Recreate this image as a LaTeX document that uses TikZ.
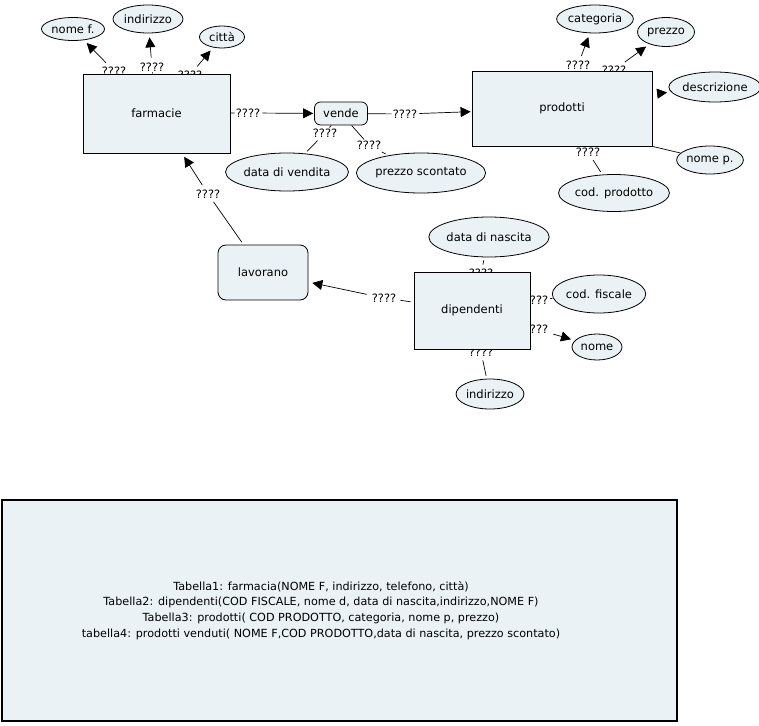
\documentclass[tikz,border=0pt]{standalone}
\usepackage{fontspec}
\setmainfont{DejaVu Sans}
\usetikzlibrary{shapes.geometric,arrows.meta}
\definecolor{cfill}{RGB}{234,242,245}
\pgfdeclarelayer{bg}
\pgfsetlayers{bg,main}
\begin{document}
\begin{tikzpicture}[x=1pt,y=-1pt,
  concept/.style={draw, fill=cfill, line width=0.8pt, inner sep=0pt, font=\fontsize{11.5}{13}\selectfont},
  box/.style={concept, rectangle},
  rbox/.style={concept, rectangle, rounded corners=6pt},
  ell/.style={concept, ellipse},
  lnk/.style={fill=white, inner sep=1pt, font=\fontsize{11.5}{13}\selectfont},
  con/.style={line width=0.7pt},
  tail/.style={con, shorten <=3pt, shorten >=3pt},
  arr/.style={con, shorten <=4pt, shorten >=4pt, -{Triangle[length=10pt,width=10pt]}}]
\useasboundingbox (0,0) rectangle (759,725);
% concepts
\node[box, minimum width=147pt, minimum height=79pt] (farm) at (156.5,113.5) {farmacie};
\node[box, minimum width=180pt, minimum height=75pt] (prod) at (562,108.5) {prodotti};
\node[box, minimum width=116pt, minimum height=77pt] (dip) at (472,310.5) {dipendenti};
\node[rbox, minimum width=53pt, minimum height=23pt] (vende) at (341,113.5) {vende};
\node[rbox, minimum width=90pt, minimum height=55pt, rounded corners=8pt] (lav) at (263,272.5) {lavorano};
\node[ell, minimum width=63pt, minimum height=23pt] (nomef) at (73,29) {nome f.};
\node[ell, minimum width=70pt, minimum height=28pt] (indf) at (148,19) {indirizzo};
\node[ell, minimum width=45pt, minimum height=22pt] (citta) at (222,37) {città};
\node[ell, minimum width=110pt, minimum height=38pt] (datav) at (287,172) {data di vendita};
\node[ell, minimum width=112pt, minimum height=40pt] (prezzos) at (421,173) {prezzo scontato};
\node[ell, minimum width=75pt, minimum height=28pt] (cat) at (595,19) {categoria};
\node[ell, minimum width=57pt, minimum height=29pt] (prezzo) at (666,32) {prezzo};
\node[ell, minimum width=85pt, minimum height=30pt] (descr) at (715,87) {descrizione};
\node[ell, minimum width=66pt, minimum height=28pt] (nomep) at (710,160) {nome p.};
\node[ell, minimum width=98pt, minimum height=37pt] (codp) at (614,193) {cod. prodotto};
\node[ell, minimum width=106pt, minimum height=40pt] (datan) at (489,237) {data di nascita};
\node[ell, minimum width=85pt, minimum height=38pt] (codf) at (599,294) {cod. fiscale};
\node[ell, minimum width=50pt, minimum height=26pt] (nome) at (597,347) {nome};
\node[ell, minimum width=67pt, minimum height=30pt] (indd) at (490,394) {indirizzo};
% table
\node[draw, line width=1.2pt, fill=cfill, minimum width=675pt, minimum height=221pt, inner sep=0pt] (tab) at (339.5,610.5) {};
\node[align=center, inner sep=0pt, font=\fontsize{11.2}{15.8}\selectfont] (tabtext) at (321,610.5)
  {Tabella1: farmacia(NOME F, indirizzo, telefono, città)\\
   Tabella2: dipendenti(COD FISCALE, nome d, data di nascita,indirizzo,NOME F)\\
   Tabella3: prodotti( COD PRODOTTO, categoria, nome p, prezzo)\\
   tabella4: prodotti venduti( NOME F,COD PRODOTTO,data di nascita, prezzo scontato)};
\begin{pgfonlayer}{bg}
% linking phrases
\node[lnk] (l1) at (114,71) {????};
\node[lnk] (l2) at (152,67) {????};
\node[lnk] (l3) at (190,75) {????};
\node[lnk] (l4) at (248,113) {????};
\node[lnk] (l5) at (405,114) {????};
\node[lnk] (l6) at (325,133) {????};
\node[lnk] (l7) at (369,145) {????};
\node[lnk] (l8) at (208,194) {????};
\node[lnk] (l9) at (578,65) {????};
\node[lnk] (l10) at (614,70) {????};
\node[lnk] (l11) at (588,152) {????};
\node[lnk] (l12) at (384,298) {????};
\node[lnk] (l13) at (481,273) {????};
\node[lnk] (l14) at (536,300) {????};
\node[lnk] (l15) at (536,329) {????};
\node[lnk] (l16) at (481,352) {????};
\coordinate (dsrc) at (654,94);
% connectors
\draw[con] (farm) -- (l1); \draw[arr] (l1) -- (nomef);
\draw[con] (farm) -- (l2); \draw[arr] (l2) -- (indf);
\draw[con] (farm) -- (l3); \draw[arr] (l3) -- (citta);
\draw[con] (farm) -- (l4); \draw[arr, shorten <=1pt, shorten >=1pt] (l4) -- (vende);
\draw[con] (vende) -- (l5); \draw[arr, shorten <=1pt, shorten >=1pt] (l5) -- (prod);
\draw[con] (vende) -- (l6); \draw[tail] (l6) -- (datav);
\draw[con] (vende) -- (l7); \draw[tail] (l7) -- (prezzos);
\draw[tail] (lav) -- (l8); \draw[arr] (l8) -- (farm);
\draw[con] (prod) -- (l9); \draw[arr] (l9) -- (cat);
\draw[con] (prod) -- (l10); \draw[arr] (l10) -- (prezzo);
\draw[arr] (dsrc) -- (descr);
\draw[con] (prod.south east) -- (nomep);
\draw[con] (prod) -- (l11); \draw[tail] (l11) -- (codp);
\draw[tail] (dip) -- (l12); \draw[arr] (l12) -- (lav);
\draw[con] (dip) -- (l13); \draw[tail] (l13) -- (datan);
\draw[con] (dip) -- (l14); \draw[tail] (l14) -- (codf);
\draw[con] (dip) -- (l15); \draw[arr] (l15) -- (nome);
\draw[con] (dip) -- (l16); \draw[tail] (l16) -- (indd);
\end{pgfonlayer}
\end{tikzpicture}
\end{document}
